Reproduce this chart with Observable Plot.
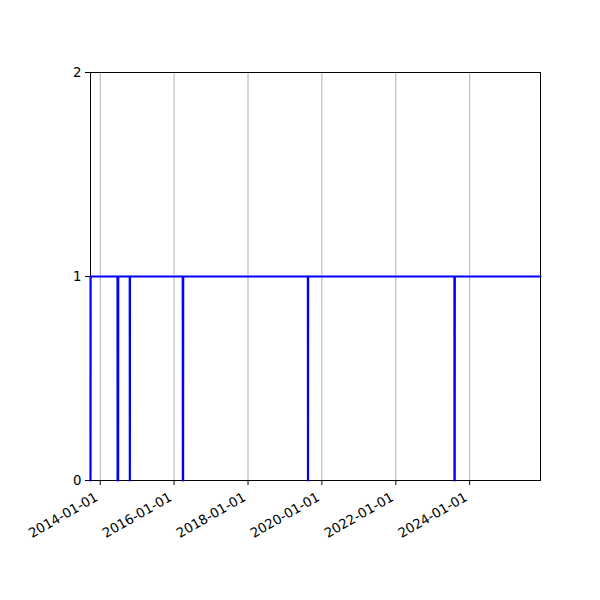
<!DOCTYPE html>
<html>
<head>
<meta charset="utf-8">
<script src="https://cdn.jsdelivr.net/npm/d3@7"></script>
<script src="https://cdn.jsdelivr.net/npm/@observablehq/plot@0.6"></script>
<style>
  html, body { margin: 0; padding: 0; background: #fff; }
  #chart svg { display: block; }
</style>
</head>
<body>
<div id="chart"></div>
<script>
// Observed series (value 1 with brief drops to 0)
const dates = [
  "2013-09-27","2013-09-28",
  "2014-06-21","2014-06-22","2014-06-27","2014-06-28",
  "2014-10-20","2014-10-21","2014-10-22",
  "2016-03-27","2016-03-28","2016-03-30","2016-03-31",
  "2019-08-16","2019-08-17","2019-08-18",
  "2023-08-03","2023-08-04","2023-08-06","2023-08-07",
  "2025-12-01"
];
const values = [0,1, 1,0,0,1, 1,0,1, 1,0,0,1, 1,0,1, 1,0,0,1, 1];
const xTickLabels = ["2014-01-01","2016-01-01","2018-01-01","2020-01-01","2022-01-01","2024-01-01"];
const yTicks = [0, 1, 2];

const parse = d3.utcParse("%Y-%m-%d");
const data = dates.map((d, i) => ({date: parse(d), value: values[i]}));
const xTicks = xTickLabels.map(parse);
const fmt = d3.utcFormat("%Y-%m-%d");

const chart = Plot.plot({
  width: 600,
  height: 600,
  marginLeft: 90,
  marginRight: 60,
  marginTop: 72,
  marginBottom: 120,
  style: {fontFamily: "DejaVu Sans", fontSize: "13px", color: "black", background: "white"},
  x: {type: "utc", domain: [parse(dates[0]), parse(dates[dates.length - 1])]},
  y: {domain: [0, 2]},
  marks: [
    Plot.gridX(xTicks, {stroke: "#b0b0b0", strokeOpacity: 1, strokeWidth: 1}),
    Plot.frame({stroke: "black", strokeWidth: 1}),
    Plot.axisX({ticks: xTicks, tickFormat: () => "", tickSize: 5, label: null}),
    Plot.text(xTicks, {x: d => d, text: d => fmt(d), frameAnchor: "bottom", dy: 11, dx: -6,
      rotate: -30, textAnchor: "end", lineAnchor: "top", fontSize: 13.3, fill: "black"}),
    Plot.axisY({ticks: yTicks, tickFormat: d3.format("d"), tickSize: 5, tickPadding: 4, label: null, fontSize: 13.3}),
    Plot.line(data, {x: "date", y: "value", stroke: "#0000ff", strokeWidth: 2.2, curve: "linear"})
  ]
});
document.getElementById("chart").appendChild(chart);
</script>
</body>
</html>
